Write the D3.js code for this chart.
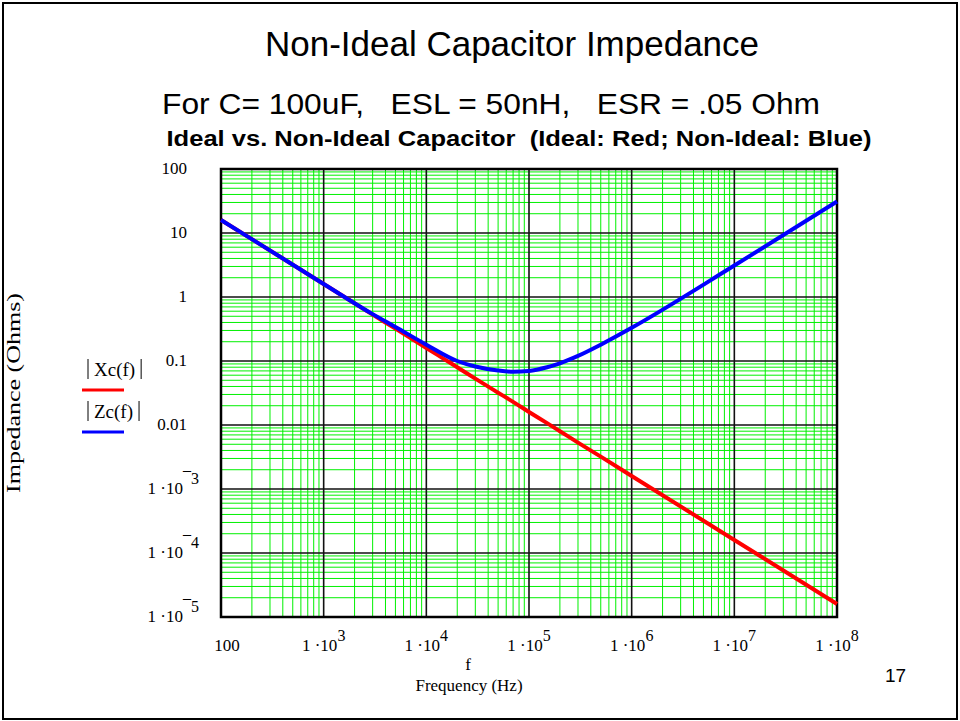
<!DOCTYPE html>
<html>
<head>
<meta charset="utf-8">
<script src="https://cdn.jsdelivr.net/npm/d3@7"></script>
<style>
  body { margin: 0; background: #fff; }
  svg { display: block; }
  .serif { font-family: "Liberation Serif", "Times New Roman", serif; }
  .sans { font-family: "Liberation Sans", Arial, sans-serif; }
</style>
</head>
<body>
<svg width="960" height="721"></svg>
<script>
// values
const freq = [100, 1e3, 3e3, 5e3, 1e4, 2e4, 3e4, 5e4, 7e4, 1e5, 1.5e5, 2e5, 3e5, 5e5, 1e6, 1e7, 1e8]
const xcIdeal = [16, 1.6, 0.53, 0.32, 0.16, 0.08, 0.053, 0.032, 0.023, 0.016, 0.0107, 0.008, 0.0053, 0.0032, 0.0016, 1.6e-4, 1.6e-5]
const zcReal = [16, 1.6, 0.54, 0.34, 0.18, 0.1, 0.082, 0.071, 0.068, 0.07, 0.08, 0.092, 0.12, 0.18, 0.33, 3.1, 31]

const xTickLabels = ['100', '1 ·10^3', '1 ·10^4', '1 ·10^5', '1 ·10^6', '1 ·10^7', '1 ·10^8']
const yTickLabels = ['1 ·10^¯5', '1 ·10^¯4', '1 ·10^¯3', '0.01', '0.1', '1', '10', '100']
const seriesNames = ['Xc(f)', 'Zc(f)']
const seriesColors = ['#ff0000', '#0000ff']

const dim = { left: 221, right: 837, top: 169, bottom: 617 }
const svg = d3.select('svg')

drawFrame()
drawTitles()

const xScale = d3.scaleLog().domain([100, 1e8]).range([dim.left, dim.right])
const yScale = d3.scaleLog().domain([1e-5, 100]).range([dim.bottom, dim.top])

drawGrid()
drawTickLabels()
drawCurves()
drawLegend()


function drawFrame () {
  svg.append('rect')
    .attr('x', 3).attr('y', 3)
    .attr('width', 954).attr('height', 716)
    .attr('fill', 'none').attr('stroke', '#000').attr('stroke-width', 2)

  svg.append('text') // slide number
    .attr('class', 'sans')
    .attr('x', 885).attr('y', 682)
    .attr('font-size', 19)
    .text('17')
}


function drawTitles () {
  svg.append('text')
    .attr('class', 'sans')
    .attr('x', 512).attr('y', 56)
    .attr('text-anchor', 'middle')
    .attr('font-size', 35)
    .attr('textLength', 494).attr('lengthAdjust', 'spacingAndGlyphs')
    .text('Non-Ideal Capacitor Impedance')

  svg.append('text')
    .attr('class', 'sans')
    .attr('x', 491).attr('y', 114)
    .attr('text-anchor', 'middle')
    .attr('font-size', 29)
    .attr('textLength', 658).attr('lengthAdjust', 'spacingAndGlyphs')
    .style('white-space', 'pre')
    .text('For C= 100uF,   ESL = 50nH,   ESR = .05 Ohm')

  svg.append('text')
    .attr('class', 'sans')
    .attr('x', 519).attr('y', 146)
    .attr('text-anchor', 'middle')
    .attr('font-size', 22)
    .attr('font-weight', 'bold')
    .attr('textLength', 705).attr('lengthAdjust', 'spacingAndGlyphs')
    .style('white-space', 'pre')
    .text('Ideal vs. Non-Ideal Capacitor  (Ideal: Red; Non-Ideal: Blue)')
}


function drawGrid () {
  const isMajor = (v) => Math.abs(Math.log10(v) - Math.round(Math.log10(v))) < 1e-9
  const xt = xScale.ticks()
  const yt = yScale.ticks()
  const g = svg.append('g')

  g.selectAll('.vminor') // green minor lines
    .data(xt.filter((d) => !isMajor(d)))
    .join('line')
      .attr('x1', (d) => xScale(d)).attr('x2', (d) => xScale(d))
      .attr('y1', dim.top).attr('y2', dim.bottom)
      .attr('stroke', '#00f000').attr('stroke-width', 1)

  g.selectAll('.hminor')
    .data(yt.filter((d) => !isMajor(d)))
    .join('line')
      .attr('x1', dim.left).attr('x2', dim.right)
      .attr('y1', (d) => yScale(d)).attr('y2', (d) => yScale(d))
      .attr('stroke', '#00f000').attr('stroke-width', 1)

  g.selectAll('.vmajor')
    .data(xt.filter(isMajor))
    .join('line')
      .attr('x1', (d) => xScale(d)).attr('x2', (d) => xScale(d))
      .attr('y1', dim.top).attr('y2', dim.bottom)
      .attr('stroke', '#111').attr('stroke-width', 1.6)

  g.selectAll('.hmajor')
    .data(yt.filter(isMajor))
    .join('line')
      .attr('x1', dim.left).attr('x2', dim.right)
      .attr('y1', (d) => yScale(d)).attr('y2', (d) => yScale(d))
      .attr('stroke', '#111').attr('stroke-width', 1.6)

  g.append('rect')
    .attr('x', dim.left).attr('y', dim.top)
    .attr('width', dim.right - dim.left).attr('height', dim.bottom - dim.top)
    .attr('fill', 'none').attr('stroke', '#000').attr('stroke-width', 2.5)
}


function addLabel (sel, label) { // "1 ·10^3" -> mantissa + raised exponent
  const parts = label.split('^')
  sel.append('tspan').text(parts[0])
  if (parts[1]) {
    sel.append('tspan')
      .attr('dy', -10)
      .attr('font-size', 16)
      .text(parts[1])
  }
}


function drawTickLabels () {
  const xDecades = d3.range(2, 9).map((e) => Math.pow(10, e))
  const yDecades = d3.range(-5, 3).map((e) => Math.pow(10, e))

  xDecades.forEach((d, i) => {
    const t = svg.append('text')
      .attr('class', 'serif')
      .attr('x', xScale(d) + (i === 0 ? 6 : 0)).attr('y', 651)
      .attr('text-anchor', 'middle')
      .attr('font-size', 17)
    addLabel(t, xTickLabels[i])
  })

  yDecades.forEach((d, i) => {
    const hasExp = yTickLabels[i].includes('^')
    const t = svg.append('text')
      .attr('class', 'serif')
      .attr('x', hasExp ? 199 : 187).attr('y', yScale(d) + 5)
      .attr('text-anchor', 'end')
      .attr('font-size', 17)
    addLabel(t, yTickLabels[i])
  })

  svg.append('text')
    .attr('class', 'serif')
    .attr('transform', 'translate(20,393) rotate(-90)')
    .attr('text-anchor', 'middle')
    .attr('font-size', 19)
    .attr('textLength', 200).attr('lengthAdjust', 'spacingAndGlyphs')
    .text('Impedance (Ohms)')

  svg.append('text')
    .attr('class', 'serif')
    .attr('x', 468).attr('y', 670)
    .attr('text-anchor', 'middle')
    .attr('font-size', 17)
    .text('f')

  svg.append('text')
    .attr('class', 'serif')
    .attr('x', 469).attr('y', 691)
    .attr('text-anchor', 'middle')
    .attr('font-size', 17)
    .text('Frequency (Hz)')
}


function drawCurves () {
  const line = d3.line()
    .curve(d3.curveMonotoneX)
    .x((d) => xScale(d[0]))
    .y((d) => yScale(d[1]))

  ;[xcIdeal, zcReal].forEach((vals, i) => {
    svg.append('path')
      .datum(freq.map((f, j) => [f, vals[j]]))
      .attr('d', line)
      .attr('fill', 'none')
      .attr('stroke', seriesColors[i])
      .attr('stroke-width', 4)
  })
}


function drawLegend () {
  seriesNames.forEach((name, i) => {
    const y = 370 + i * 42
    const g = svg.append('g')
    g.append('text')
      .attr('class', 'serif')
      .attr('x', 94).attr('y', y + 6)
      .attr('font-size', 19)
      .text(name)
    const w = g.select('text').node().getComputedTextLength()
    ;[88, 100 + w].forEach((bx) => {
      g.append('line')
        .attr('x1', bx).attr('x2', bx)
        .attr('y1', y - 11).attr('y2', y + 9)
        .attr('stroke', '#000').attr('stroke-width', 1)
    })
    g.append('line')
      .attr('x1', 82).attr('x2', 124)
      .attr('y1', y + 20).attr('y2', y + 20)
      .attr('stroke', seriesColors[i]).attr('stroke-width', 3)
  })
}
</script>
</body>
</html>
